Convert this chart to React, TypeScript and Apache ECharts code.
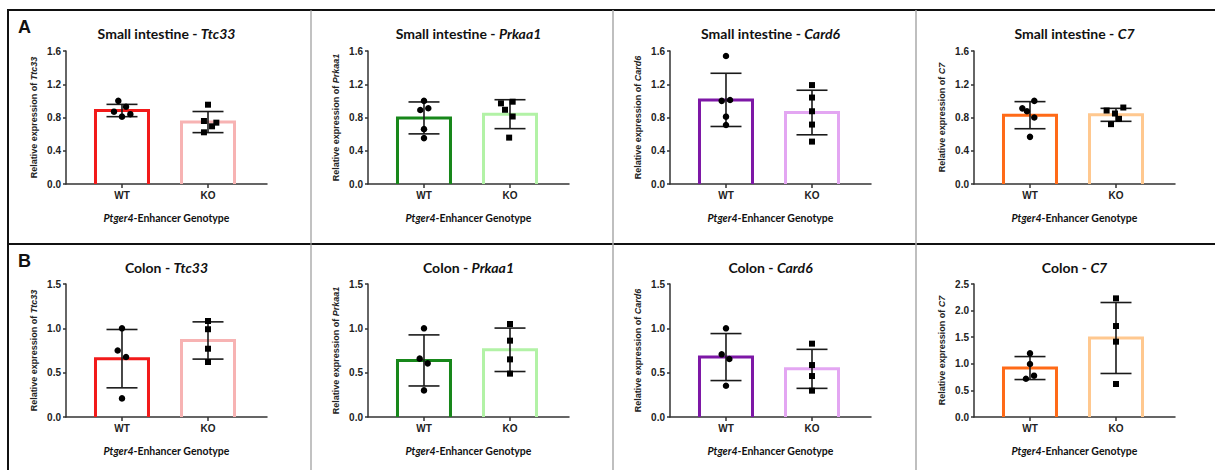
import React, { useEffect, useRef } from "react";
import * as echarts from "echarts";

// ---- data ----
const TISSUES = ["Small intestine", "Colon"];
const GENES = ["Ttc33", "Prkaa1", "Card6", "C7"];
const CATEGORIES = ["WT", "KO"];
const PANEL_LETTERS = ["A", "B"];

// y-axis ranges per panel
const Y_MAX = [1.6, 1.6, 1.6, 1.6, 1.5, 1.5, 1.5, 2.5];
const Y_INTERVAL = [0.4, 0.4, 0.4, 0.4, 0.5, 0.5, 0.5, 0.5];

// mean and SD, per panel (SI Ttc33, SI Prkaa1, SI Card6, SI C7, Colon Ttc33, Colon Prkaa1, Colon Card6, Colon C7)
const WT_MEAN = [0.884, 0.795, 1.012, 0.828, 0.658, 0.638, 0.676, 0.92];
const WT_SD = [0.074, 0.192, 0.32, 0.163, 0.329, 0.288, 0.265, 0.216];
const KO_MEAN = [0.745, 0.84, 0.86, 0.832, 0.863, 0.758, 0.543, 1.485];
const KO_SD = [0.127, 0.174, 0.268, 0.078, 0.21, 0.245, 0.22, 0.667];

// individual points: values and horizontal jitter
const WT_POINTS = [
  [1.0, 0.93, 0.87, 0.84, 0.81],
  [1.0, 0.89, 0.912, 0.66, 0.552],
  [1.54, 1.0, 1.01, 0.81, 0.71],
  [1.0, 0.91, 0.875, 0.8, 0.567],
  [1.0, 0.75, 0.677, 0.21],
  [1.0, 0.658, 0.605, 0.3],
  [1.0, 0.707, 0.654, 0.353],
  [1.197, 0.996, 0.777, 0.72],
];
const WT_JITTER = [
  [-0.043, 0.047, -0.093, 0.097, 0],
  [0, -0.043, 0.05, 0, 0],
  [0, -0.05, 0.047, 0, 0],
  [0.05, -0.089, -0.035, 0.05, 0],
  [0, -0.05, 0.047, 0],
  [0, -0.05, 0.043, 0],
  [0, -0.05, 0.039, 0],
  [0, 0, 0.047, -0.047],
];
const KO_POINTS = [
  [0.954, 0.758, 0.738, 0.694, 0.622],
  [0.97, 0.99, 0.893, 0.812, 0.558],
  [1.19, 1.04, 0.875, 0.715, 0.51],
  [0.884, 0.92, 0.848, 0.784, 0.72],
  [1.083, 0.99, 0.77, 0.62],
  [1.049, 0.861, 0.65, 0.489],
  [0.827, 0.586, 0.462, 0.297],
  [2.23, 1.71, 1.416, 0.62],
];
const KO_JITTER = [
  [0, -0.047, 0.097, 0.047, -0.047],
  [-0.105, 0.031, -0.058, 0.031, -0.01],
  [0, 0, 0, 0, 0],
  [-0.109, 0.085, -0.012, 0.035, -0.058],
  [0, 0, 0, 0],
  [0, 0, 0, 0],
  [0, 0, 0, 0],
  [0, 0, 0, 0],
];

const WT_COLORS = ["#F21A1A", "#17871A", "#7D17A6", "#FF6A17"];
const KO_COLORS = ["#F7B3B3", "#B2F2A6", "#E3A6F2", "#FFC88F"];

// ---- layout ----
const GRID_LEFT = [66, 368, 670, 974];
const GRID_TOP = [51, 284];
const GRID_W = 201;
const GRID_H = 133;
const TITLE_Y = [33, 267];
const X_MIN = -0.651;
const X_MAX = 1.686;
const BAR_HALF_PX = 26.5;
const CAP_HALF_PX = 15.5;
const AXIS_COLOR = "#333";
const ARIAL = 'Arial, "Liberation Sans", sans-serif';
const LATO = 'Lato, "Open Sans", sans-serif';

function buildOption() {
  const grid: any[] = [];
  const xAxis: any[] = [];
  const yAxis: any[] = [];
  const series: any[] = [];
  const graphic: any[] = [];

  for (let i = 0; i < 8; i++) {
    const r = Math.floor(i / 4);
    const c = i % 4;
    const gene = GENES[c];
    grid.push({ left: GRID_LEFT[c], top: GRID_TOP[r], width: GRID_W, height: GRID_H });
    xAxis.push({
      gridIndex: i,
      type: "value",
      min: X_MIN,
      max: X_MAX,
      splitLine: { show: false },
      axisLine: { show: true, onZero: false, lineStyle: { color: AXIS_COLOR, width: 1.5 } },
      axisTick: { show: true, customValues: [0, 1], length: 4, lineStyle: { color: AXIS_COLOR, width: 1.5 } },
      axisLabel: {
        customValues: [0, 1],
        formatter: (v: number) => CATEGORIES[Math.round(v)] ?? "",
        margin: 6,
        fontFamily: ARIAL,
        fontWeight: "bold",
        fontSize: 10,
        color: "#222",
      },
      name: `{i|Ptger4}{n|-Enhancer Genotype}`,
      nameLocation: "middle",
      nameGap: 28,
      nameTextStyle: {
        rich: {
          i: { fontFamily: LATO, fontStyle: "italic", fontWeight: "bold", fontSize: 10.5, color: "#111" },
          n: { fontFamily: LATO, fontWeight: "bold", fontSize: 10.5, color: "#111" },
        },
      },
    });
    yAxis.push({
      gridIndex: i,
      type: "value",
      min: 0,
      max: Y_MAX[i],
      interval: Y_INTERVAL[i],
      splitLine: { show: false },
      axisLine: { show: true, onZero: false, lineStyle: { color: AXIS_COLOR, width: 1.5 } },
      axisTick: { show: true, length: 3, lineStyle: { color: AXIS_COLOR, width: 1.5 } },
      axisLabel: {
        formatter: (v: number) => v.toFixed(1),
        margin: 5,
        fontFamily: ARIAL,
        fontWeight: "bold",
        fontSize: 10,
        color: "#222",
      },
      name: `{n|Relative expression of }{i|${gene}}`,
      nameLocation: "middle",
      nameRotate: 90,
      nameGap: 28,
      nameTextStyle: {
        rich: {
          n: { fontFamily: ARIAL, fontWeight: "bold", fontSize: 9, color: "#222" },
          i: { fontFamily: ARIAL, fontWeight: "bold", fontStyle: "italic", fontSize: 9, color: "#222" },
        },
      },
    });

    const wtColor = WT_COLORS[c];
    const koColor = KO_COLORS[c];
    series.push({
      type: "custom",
      xAxisIndex: i,
      yAxisIndex: i,
      clip: false,
      z: 2,
      data: [
        [0, WT_MEAN[i], WT_SD[i]],
        [1, KO_MEAN[i], KO_SD[i]],
      ],
      renderItem: (params: any, api: any) => {
        const x = api.value(0);
        const m = api.value(1);
        const s = api.value(2);
        const base = api.coord([x, 0]);
        const top = api.coord([x, m]);
        const hi = api.coord([x, m + s]);
        const lo = api.coord([x, m - s]);
        const color = x === 0 ? wtColor : koColor;
        const cx = top[0];
        return {
          type: "group",
          children: [
            {
              type: "polyline",
              shape: {
                points: [
                  [cx - BAR_HALF_PX, base[1]],
                  [cx - BAR_HALF_PX, top[1]],
                  [cx + BAR_HALF_PX, top[1]],
                  [cx + BAR_HALF_PX, base[1]],
                ],
              },
              style: { stroke: color, lineWidth: 3, fill: "none" },
            },
            { type: "line", shape: { x1: cx, y1: hi[1], x2: cx, y2: lo[1] }, style: { stroke: "#1a1a1a", lineWidth: 1.6 } },
            { type: "line", shape: { x1: cx - CAP_HALF_PX, y1: hi[1], x2: cx + CAP_HALF_PX, y2: hi[1] }, style: { stroke: "#1a1a1a", lineWidth: 1.6 } },
            { type: "line", shape: { x1: cx - CAP_HALF_PX, y1: lo[1], x2: cx + CAP_HALF_PX, y2: lo[1] }, style: { stroke: "#1a1a1a", lineWidth: 1.6 } },
          ],
        };
      },
    });
    series.push({
      type: "scatter",
      xAxisIndex: i,
      yAxisIndex: i,
      z: 3,
      symbol: "circle",
      symbolSize: 6.5,
      itemStyle: { color: "#000", opacity: 1 },
      data: WT_POINTS[i].map((v, k) => [0 + WT_JITTER[i][k], v]),
    });
    series.push({
      type: "scatter",
      xAxisIndex: i,
      yAxisIndex: i,
      z: 3,
      symbol: "rect",
      symbolSize: 6,
      itemStyle: { color: "#000", opacity: 1 },
      data: KO_POINTS[i].map((v, k) => [1 + KO_JITTER[i][k], v]),
    });

    graphic.push({
      type: "text",
      x: GRID_LEFT[c] + GRID_W / 2,
      y: TITLE_Y[r],
      style: {
        text: `{a|${TISSUES[r]} - }{b|${gene}}`,
        align: "center",
        verticalAlign: "middle",
        rich: {
          a: { fontFamily: LATO, fontWeight: "bold", fontSize: 14, fill: "#111" },
          b: { fontFamily: LATO, fontWeight: "bold", fontStyle: "italic", fontSize: 14, fill: "#111" },
        },
      },
    });
  }

  // frame lines
  const frame = [
    { x1: 8, y1: 10, x2: 1215, y2: 10, c: "#111", w: 2 },
    { x1: 8, y1: 244, x2: 1215, y2: 244, c: "#111", w: 2 },
    { x1: 8, y1: 9, x2: 8, y2: 470, c: "#111", w: 2 },
    { x1: 311, y1: 10, x2: 311, y2: 470, c: "#999", w: 1.2 },
    { x1: 613, y1: 10, x2: 613, y2: 470, c: "#aaa", w: 1.5 },
    { x1: 916, y1: 10, x2: 916, y2: 470, c: "#aaa", w: 1.5 },
  ];
  frame.forEach((f) =>
    graphic.push({ type: "line", shape: { x1: f.x1, y1: f.y1, x2: f.x2, y2: f.y2 }, style: { stroke: f.c, lineWidth: f.w } })
  );
  PANEL_LETTERS.forEach((L, r) =>
    graphic.push({
      type: "text",
      x: 18,
      y: r === 0 ? 27 : 261,
      style: { text: L, fontFamily: ARIAL, fontWeight: "bold", fontSize: 18, fill: "#111", verticalAlign: "middle" },
    })
  );

  return { animation: false, backgroundColor: "#fff", grid, xAxis, yAxis, series, graphic };
}

export default function App() {
  const ref = useRef<HTMLDivElement>(null);
  useEffect(() => {
    if (!ref.current) return;
    const chart = echarts.init(ref.current, null, { renderer: "svg" });
    chart.setOption(buildOption() as any);
    return () => chart.dispose();
  }, []);
  return (
    <div
      ref={ref}
      style={{ position: "absolute", left: 0, top: 0, width: 1215, height: 470 }}
    />
  );
}
